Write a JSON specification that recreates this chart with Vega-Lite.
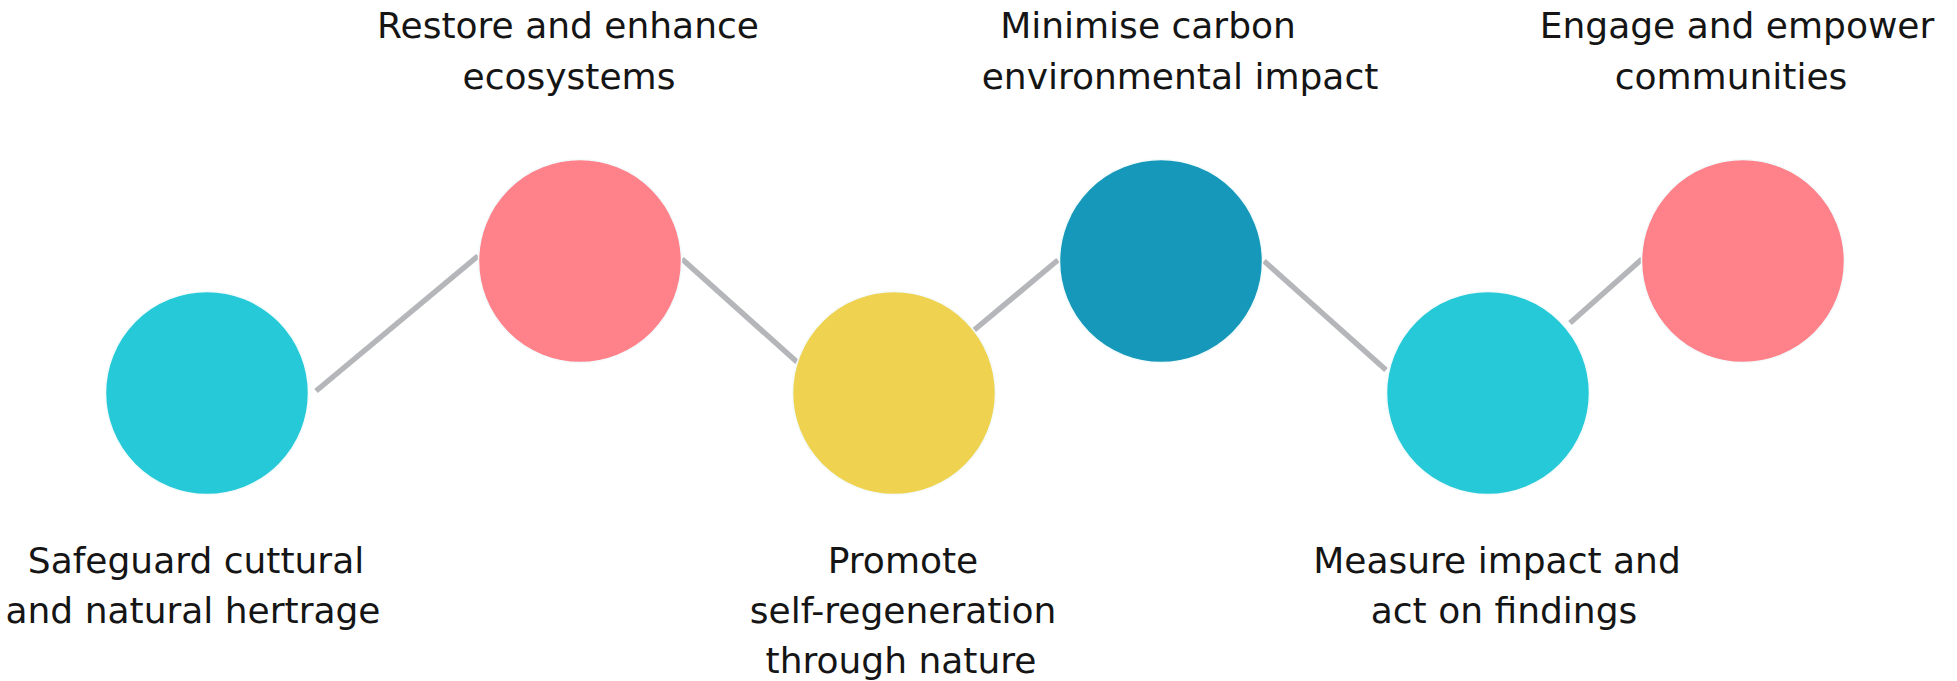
{
  "$schema": "https://vega.github.io/schema/vega-lite/v6.json",
  "width": 1957,
  "height": 681,
  "padding": 0,
  "autosize": {"type": "fit", "contains": "padding"},
  "background": "#ffffff",
  "config": {"view": {"stroke": null}},
  "datasets": {
    "links": [
      {"from": 1, "to": 2, "xa": 316, "ya": 391, "xb": 478, "yb": 256},
      {"from": 2, "to": 3, "xa": 682, "ya": 259, "xb": 797, "yb": 362},
      {"from": 3, "to": 4, "xa": 973, "ya": 331, "xb": 1058, "yb": 260},
      {"from": 4, "to": 5, "xa": 1264, "ya": 261, "xb": 1386, "yb": 370},
      {"from": 5, "to": 6, "xa": 1570, "ya": 323, "xb": 1642, "yb": 259}
    ],
    "nodes": [
      {"step": 1, "theme": "Heritage", "x": 207, "y": 393},
      {"step": 2, "theme": "Ecosystems", "x": 580, "y": 261},
      {"step": 3, "theme": "Regeneration", "x": 894, "y": 393},
      {"step": 4, "theme": "Carbon", "x": 1161, "y": 261},
      {"step": 5, "theme": "Heritage", "x": 1488, "y": 393},
      {"step": 6, "theme": "Ecosystems", "x": 1743, "y": 261}
    ],
    "labels": [
      {"step": 2, "line": "Restore and enhance", "x": 568, "y": 38},
      {"step": 2, "line": "ecosystems", "x": 569, "y": 89},
      {"step": 4, "line": "Minimise carbon", "x": 1148, "y": 38},
      {"step": 4, "line": "environmental impact", "x": 1180, "y": 89},
      {"step": 6, "line": "Engage and empower", "x": 1737, "y": 38},
      {"step": 6, "line": "communities", "x": 1731, "y": 89},
      {"step": 1, "line": "Safeguard cuttural", "x": 196, "y": 573},
      {"step": 1, "line": "and natural hertrage", "x": 193, "y": 623},
      {"step": 3, "line": "Promote", "x": 903, "y": 573},
      {"step": 3, "line": "self-regeneration", "x": 903, "y": 623},
      {"step": 3, "line": "through nature", "x": 901, "y": 673},
      {"step": 5, "line": "Measure impact and", "x": 1497, "y": 573},
      {"step": 5, "line": "act on findings", "x": 1504, "y": 623}
    ]
  },
  "layer": [
    {
      "data": {"name": "links"},
      "mark": {"type": "rule", "color": "#b4b6b9", "strokeWidth": 5.5, "strokeCap": "butt"},
      "encoding": {
        "x": {"field": "xa", "type": "quantitative", "scale": {"domain": [0, 1957], "nice": false, "zero": false}, "axis": null},
        "y": {"field": "ya", "type": "quantitative", "scale": {"domain": [0, 681], "nice": false, "zero": false, "reverse": true}, "axis": null},
        "x2": {"field": "xb"},
        "y2": {"field": "yb"}
      }
    },
    {
      "data": {"name": "nodes"},
      "mark": {"type": "point", "shape": "circle", "filled": true, "opacity": 1, "size": 41200, "stroke": "#f4fbfc", "strokeWidth": 1.5},
      "encoding": {
        "x": {"field": "x", "type": "quantitative", "scale": {"domain": [0, 1957], "nice": false, "zero": false}, "axis": null},
        "y": {"field": "y", "type": "quantitative", "scale": {"domain": [0, 681], "nice": false, "zero": false, "reverse": true}, "axis": null},
        "color": {
          "field": "theme",
          "type": "nominal",
          "scale": {"domain": ["Heritage", "Ecosystems", "Regeneration", "Carbon"], "range": ["#26c9d7", "#ff8189", "#efd24f", "#1698ba"]},
          "legend": null
        }
      }
    },
    {
      "data": {"name": "labels"},
      "mark": {"type": "text", "font": "DejaVu Sans", "fontSize": 36, "color": "#151515", "align": "center", "baseline": "alphabetic"},
      "encoding": {
        "x": {"field": "x", "type": "quantitative", "scale": {"domain": [0, 1957], "nice": false, "zero": false}, "axis": null},
        "y": {"field": "y", "type": "quantitative", "scale": {"domain": [0, 681], "nice": false, "zero": false, "reverse": true}, "axis": null},
        "text": {"field": "line", "type": "nominal"}
      }
    }
  ]
}
